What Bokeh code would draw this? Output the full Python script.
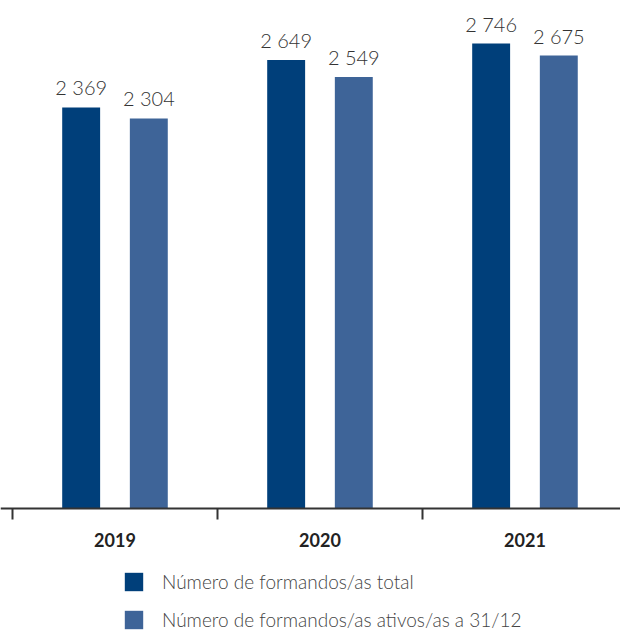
from bokeh.plotting import figure
from bokeh.models import ColumnDataSource, Range1d, LinearAxis, FixedTicker, Legend, LegendItem
from bokeh.embed import file_html
from bokeh.resources import INLINE
from bokeh.core.properties import value

years = ["2019", "2020", "2021"]
total = [2369, 2649, 2746]
ativos = [2304, 2549, 2675]
series_names = ["Número de formandos/as total", "Número de formandos/as ativos/as a 31/12"]
colors = ["#003f7a", "#3e6498"]


def fmt(v):
    return f"{v:,}".replace(",", " ")


centers = [i + 0.5 for i in range(len(years))]
src_t = ColumnDataSource(dict(x=[c - 0.165 for c in centers], top=total, label=[fmt(v) for v in total]))
src_a = ColumnDataSource(dict(x=[c + 0.165 for c in centers], top=ativos, label=[fmt(v) for v in ativos]))

p = figure(width=620, height=630, output_backend="svg", toolbar_location=None,
           x_range=Range1d(-0.0585, 2.966), y_range=Range1d(-720.6, 3000.6),
           x_axis_location=None, y_axis_location=None, min_border=0)
p.outline_line_color = None
p.xgrid.grid_line_color = None
p.ygrid.grid_line_color = None

r1 = p.vbar(x="x", top="top", bottom=0, width=0.185, source=src_t, fill_color=colors[0], line_color=None)
r2 = p.vbar(x="x", top="top", bottom=0, width=0.185, source=src_a, fill_color=colors[1], line_color=None)

for s in (src_t, src_a):
    p.text(x="x", y="top", text="label", source=s, text_align="center", text_baseline="bottom",
           y_offset=-8, text_font=value("Lato Light"), text_font_size="20px", text_color="#333333")

ax = LinearAxis(fixed_location=0,
                ticker=FixedTicker(ticks=centers, minor_ticks=[0, 1, 2, 3]),
                major_label_overrides={c: y for c, y in zip(centers, years)})
ax.axis_line_color = "#333333"
ax.axis_line_width = 2
ax.major_tick_line_color = None
ax.major_tick_in = 0
ax.major_tick_out = 0
ax.minor_tick_in = 0
ax.minor_tick_out = 11
ax.minor_tick_line_color = "#333333"
ax.minor_tick_line_width = 2
ax.major_label_text_font = "Lato"
ax.major_label_text_font_style = "bold"
ax.major_label_text_font_size = "18px"
ax.major_label_text_color = "#222222"
ax.major_label_standoff = 13
p.add_layout(ax, "below")

legend = Legend(items=[LegendItem(label=series_names[0], renderers=[r1]),
                       LegendItem(label=series_names[1], renderers=[r2])],
                location=(122, -1), orientation="vertical",
                glyph_width=23, glyph_height=23, label_height=23, spacing=15,
                label_standoff=17, padding=0, margin=0,
                border_line_color=None, background_fill_alpha=0,
                label_text_font="Lato Light", label_text_font_size="19px", label_text_color="#444444")
p.add_layout(legend)

open("out.html", "w").write(file_html(p, INLINE))
